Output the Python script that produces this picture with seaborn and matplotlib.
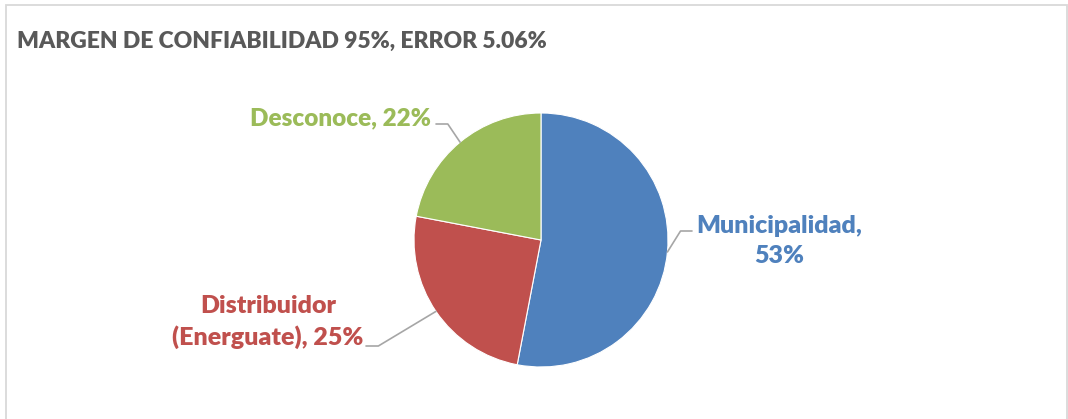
import matplotlib
matplotlib.use("Agg")
import matplotlib.pyplot as plt
import seaborn as sns
import numpy as np

# data
categories = ["Municipalidad", "Distribuidor", "Desconoce"]
shares = [53, 25, 22]
colors = ["#4F81BD", "#C0504D", "#9BBB59"]
title = "MARGEN DE CONFIABILIDAD 95%, ERROR 5.06%"
label_text = {
    "Municipalidad": "Municipalidad,\n{}%",
    "Distribuidor": "Distribuidor\n(Energuate), {}%",
    "Desconoce": "Desconoce, {}%",
}

sns.set_theme(style="white")
plt.rcParams["font.family"] = ["Lato", "DejaVu Sans"]

W, H = 1068, 419
fig = plt.figure(figsize=(W / 100, H / 100), dpi=100)
fig.patch.set_facecolor("white")

# chart frame
fig.add_artist(plt.Rectangle((6 / W, -0.05), (W - 7) / W, (H - 5) / H + 0.05,
                             transform=fig.transFigure, fill=False,
                             edgecolor="#D9D9D9", lw=1.3))

# pie axes: centre (541, 240), radius 127 px
cx, cy, r = 541, 240, 127
ax = fig.add_axes([(cx - r) / W, (H - cy - r) / H, 2 * r / W, 2 * r / H])
wedges, _ = ax.pie(shares, colors=colors, startangle=90, counterclock=False,
                   radius=1, wedgeprops=dict(edgecolor="white", linewidth=0.8))
ax.set_xlim(-1, 1)
ax.set_ylim(-1, 1)
ax.set_aspect("equal")
ax.axis("off")

fig.text(17 / W, 1 - 41 / H, title, ha="left", va="center", fontsize=16.5,
         fontweight="heavy", color="#595959")

# labels: (text x, text y, ha, leader end x, leader end y, leader angle, size)
label_layout = {
    "Municipalidad": (779, 241, "center", 692, 231, 58, 18),
    "Distribuidor": (268, 322, "center", 366, 346, 31, 18),
    "Desconoce": (431, 118, "right", 436, 124, -56, 17.5),
}
for w, cat, val, col in zip(wedges, categories, shares, colors):
    mid = np.deg2rad((w.theta1 + w.theta2) / 2)
    tx, ty, ha, lx, ly, ang, fs = label_layout[cat]
    ax.annotate("", xy=(np.cos(mid), np.sin(mid)), xycoords="data",
                xytext=(lx, H - ly), textcoords="figure pixels",
                arrowprops=dict(arrowstyle="-", color="#A6A6A6", lw=1.2,
                                shrinkA=0, shrinkB=0,
                                connectionstyle=f"angle,angleA=0,angleB={ang},rad=0"))
    fig.text(tx / W, 1 - ty / H, label_text[cat].format(val), ha=ha, va="center",
             multialignment="center", fontsize=fs, fontweight="heavy", color=col,
             linespacing=1.45)

fig.savefig("out.png", dpi=100, facecolor="white")
